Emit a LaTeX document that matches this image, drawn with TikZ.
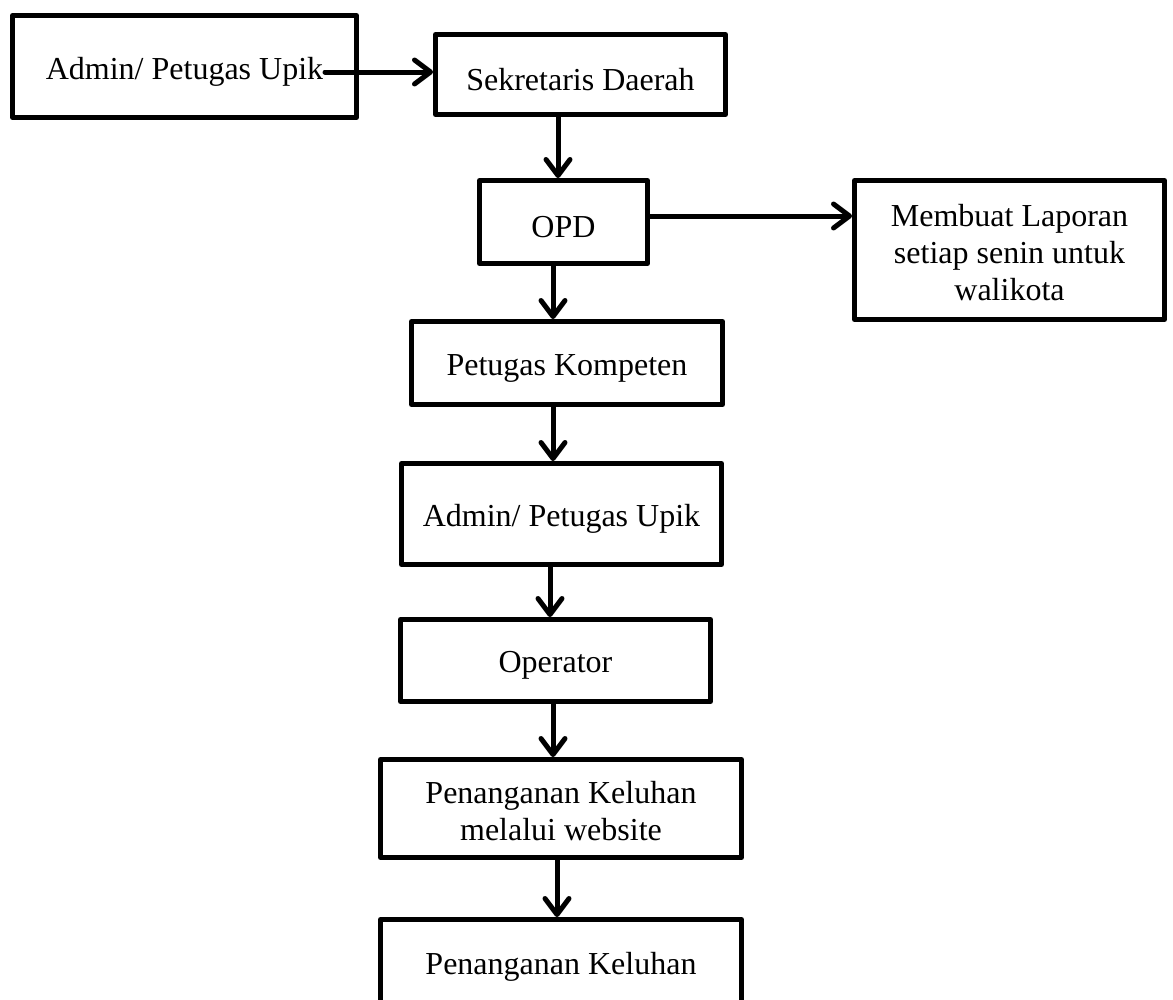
\documentclass[tikz,border=0pt]{standalone}
\usepackage{fontspec}
\setmainfont{Liberation Serif}
\usetikzlibrary{arrows.meta}
\begin{document}
\begin{tikzpicture}[x=1pt,y=-1pt,
 box/.style={draw, line width=5pt, line join=round, inner sep=0pt},
 txt/.style={align=center, inner sep=0pt, yshift=-5pt, font=\fontsize{32}{37}\selectfont},
 arr/.style={line width=5pt, line cap=round, -{Straight Barb[length=16pt,width=24pt,line cap=round,line join=round]}}]
\useasboundingbox (0,0) rectangle (1173,999);
\clip (0,0) rectangle (1173,999);
\node[box, minimum width=344pt, minimum height=102pt, label={[txt, name=ta1]center:Admin/ Petugas Upik}] (a1) at (184.5,66.5) {};
\node[box, minimum width=290pt, minimum height=80pt, label={[txt, name=tsek]center:Sekretaris Daerah}] (sek) at (580.5,74.5) {};
\node[box, minimum width=168pt, minimum height=83pt, label={[txt, name=topd]center:OPD}] (opd) at (563.5,222) {};
\node[box, minimum width=310pt, minimum height=139pt, label={[txt, name=tlap, yshift=2pt]center:Membuat Laporan\\setiap senin untuk\\walikota}] (lap) at (1009.5,250) {};
\node[box, minimum width=311pt, minimum height=83pt, label={[txt, name=tpk]center:Petugas Kompeten}] (pk) at (567,363) {};
\node[box, minimum width=320pt, minimum height=101pt, label={[txt, name=ta2]center:Admin/ Petugas Upik}] (a2) at (561.5,514) {};
\node[box, minimum width=310pt, minimum height=82pt, label={[txt, name=top]center:Operator}] (op) at (555.5,660.5) {};
\node[box, minimum width=361pt, minimum height=98pt, label={[txt, name=tweb, yshift=2pt]center:Penanganan Keluhan\\melalui website}] (web) at (561,808.5) {};
\node[box, minimum width=361pt, minimum height=85pt, label={[txt, name=tpkl]center:Penanganan Keluhan}] (pkl) at (561,962) {};
\coordinate (a1s) at (325,72);
\coordinate (h1) at (0,216);
\coordinate (v1) at (558,0);
\coordinate (v2) at (553,0);
\coordinate (v3) at (553,0);
\coordinate (v4) at (550,0);
\coordinate (v5) at (553,0);
\coordinate (v6) at (557,0);
\draw[arr] (a1s) -- (a1s -| sek.west);
\draw[arr] (sek.south -| v1) -- (opd.north -| v1);
\draw[arr] (opd.east |- h1) -- (lap.west |- h1);
\draw[arr] (opd.south -| v2) -- (pk.north -| v2);
\draw[arr] (pk.south -| v3) -- (a2.north -| v3);
\draw[arr] (a2.south -| v4) -- (op.north -| v4);
\draw[arr] (op.south -| v5) -- (web.north -| v5);
\draw[arr] (web.south -| v6) -- (pkl.north -| v6);
\end{tikzpicture}
\end{document}
